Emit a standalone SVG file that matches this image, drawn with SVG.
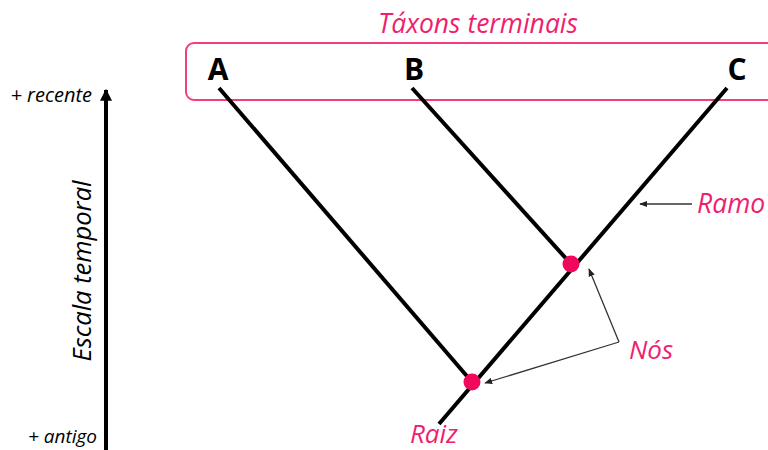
<svg xmlns="http://www.w3.org/2000/svg" width="768" height="450" viewBox="0 0 768 450">
<style>
.pk{fill:#EE1F6F;font-family:"Open Sans","Liberation Sans",sans-serif;font-style:italic}
.lbl{fill:#000;font-family:"Open Sans","Liberation Sans",sans-serif;font-weight:bold;font-size:30px}
.blk{fill:#000;font-family:"Open Sans","Liberation Sans",sans-serif;font-style:italic}
.br{stroke:#000;stroke-width:4;fill:none;stroke-linecap:butt}
.thin{stroke:#333;stroke-width:1.3;fill:none}
.node{fill:#F0085C}
</style>
<defs>
<marker id="ah" viewBox="0 0 10 10" refX="9" refY="5" markerWidth="8" markerHeight="8" markerUnits="userSpaceOnUse" orient="auto">
<path d="M0,1 L10,5 L0,9 z" fill="#222"/>
</marker>
<marker id="big" viewBox="0 0 10 10" refX="9" refY="5" markerWidth="12" markerHeight="12" markerUnits="userSpaceOnUse" orient="auto">
<path d="M0,0 L10,5 L0,10 z" fill="#000"/>
</marker>
</defs>
<g id="terminal-box">
<rect x="186" y="43" width="590" height="57" rx="8" fill="none" stroke="#F23D80" stroke-width="2"/>
<text class="pk" x="478" y="33" font-size="26.5" text-anchor="middle">Táxons terminais</text>
</g>
<g id="time-scale">
<line x1="106" y1="450" x2="106" y2="90" stroke="#000" stroke-width="4" marker-end="url(#big)"/>
<text class="blk" x="92" y="102" font-size="20" text-anchor="end">+ recente</text>
<text class="blk" x="97" y="443" font-size="19" text-anchor="end">+ antigo</text>
<text class="blk" font-size="25.5" text-anchor="middle" transform="translate(91,271) rotate(-90)">Escala temporal</text>
</g>
<g id="connectors">
<line class="br" x1="219" y1="88" x2="472" y2="382"/>
<line class="br" x1="412" y1="88" x2="571" y2="264"/>
<line class="br" x1="727" y1="88" x2="439" y2="424"/>
<polyline class="thin" points="692,204 640,204" marker-end="url(#ah)"/>
<polyline class="thin" points="619,342 589,269" marker-end="url(#ah)"/>
<polyline class="thin" points="619,342 485,383" marker-end="url(#ah)"/>
</g>
<g id="taxon-A"><text class="lbl" x="218" y="80" text-anchor="middle">A</text></g>
<g id="taxon-B"><text class="lbl" x="414" y="80" text-anchor="middle">B</text></g>
<g id="taxon-C"><text class="lbl" x="737" y="80" text-anchor="middle">C</text></g>
<g id="node-1"><circle class="node" cx="472" cy="382" r="8.5"/></g>
<g id="node-2"><circle class="node" cx="571" cy="264" r="8.5"/></g>
<g id="label-ramo"><text class="pk" x="697" y="213" font-size="26.5">Ramo</text></g>
<g id="label-nos"><text class="pk" x="629" y="359" font-size="26">Nós</text></g>
<g id="label-raiz"><text class="pk" x="410" y="443" font-size="26">Raiz</text></g>
</svg>
